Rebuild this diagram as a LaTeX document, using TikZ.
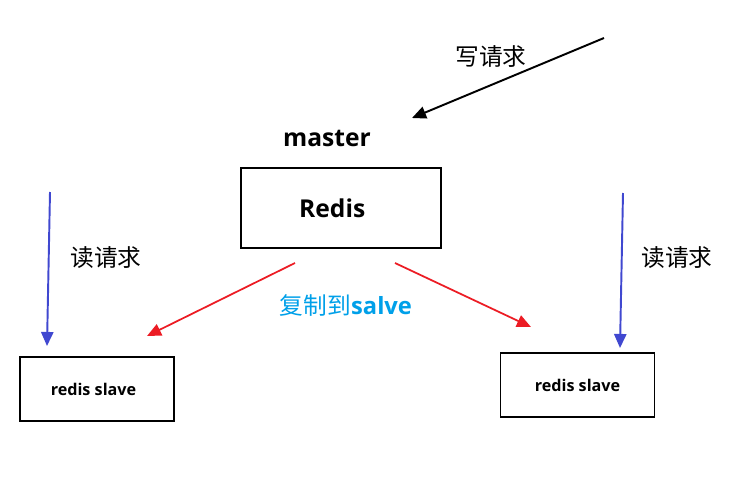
\documentclass[tikz,border=0pt]{standalone}
\usepackage{fontspec}
\setmainfont{Open Sans}
\newfontfamily\cjk{Noto Sans CJK SC}
\usetikzlibrary{arrows.meta, positioning}
\definecolor{readblue}{RGB}{64,72,208}
\definecolor{copyred}{RGB}{236,28,36}
\definecolor{copycyan}{RGB}{0,160,233}

\tikzset{
  masterbox/.style={draw,line width=1.1pt,minimum width=4cm,minimum height=1.6cm,font=\fontsize{14}{16}\selectfont\bfseries},
  slavebox/.style={draw,line width=1.1pt,minimum width=3.08cm,minimum height=1.28cm,font=\fontsize{9.2}{11}\selectfont\bfseries},
  reqlabel/.style={font=\cjk\fontsize{13.5}{15}\selectfont},
  tip/.style={-{Triangle[length=8pt,width=7pt]}},
}

\begin{document}
\begin{tikzpicture}[x=0.02cm,y=-0.02cm]
  \useasboundingbox (0,0) rectangle (741,477);
  % boxes
  \node[masterbox] (redis) at (341,208) {Redis\hspace*{10pt}};
  \node[font=\fontsize{14}{16}\selectfont\bfseries] (master) at (327,138) {master};
  \node[slavebox] (slave_l) at (97,389) {redis slave\hspace*{4pt}};
  \node[slavebox] (slave_r) at (577.5,385) {redis slave};
  % free ends
  \coordinate (w_from) at (604,38);
  \coordinate (w_to) at (412,118);
  \coordinate (rl_from) at (50,192);
  \coordinate (rl_to) at (47,346);
  \coordinate (rr_from) at (623,193);
  \coordinate (rr_to) at (620,348);
  \coordinate (cl_from) at (295,263);
  \coordinate (cl_to) at (147,336);
  \coordinate (cr_from) at (395,263);
  \coordinate (cr_to) at (531,327);
  % arrows
  \draw[tip,line width=1.1pt] (w_from) -- (w_to);
  \draw[tip,readblue,line width=1.1pt] (rl_from) -- (rl_to);
  \draw[tip,readblue,line width=1.1pt] (rr_from) -- (rr_to);
  \draw[tip,copyred,line width=1pt] (cl_from) -- (cl_to);
  \draw[tip,copyred,line width=1pt] (cr_from) -- (cr_to);
  % labels
  \node[reqlabel] (write) at (491,57) {写请求};
  \node[reqlabel] (read_l) at (106,258) {读请求};
  \node[reqlabel] (read_r) at (677,258) {读请求};
  \node[reqlabel,text=copycyan] (copy) at (346,305) {复制到{\rmfamily\bfseries salve}};
\end{tikzpicture}
\end{document}
